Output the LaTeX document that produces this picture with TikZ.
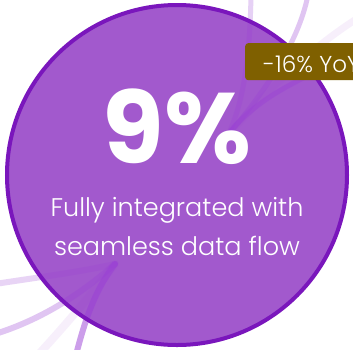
\documentclass[tikz,border=0pt]{standalone}
\usepackage{fontspec}
\setmainfont{Poppins}
\newfontfamily\popbold{Poppins Bold}
\newfontfamily\poplight{Poppins Light}
\definecolor{circfill}{HTML}{A259CD}
\definecolor{circline}{HTML}{7A16BC}
\definecolor{badgefill}{HTML}{7F6000}
\definecolor{flowcol}{HTML}{9A3FD6}
\tikzset{
  flow/.style={draw=flowcol, line cap=round, fill=none},
  badgebox/.style={fill=badgefill, rounded corners=3pt},
}
\begin{document}
\begin{tikzpicture}[x=1pt,y=-1pt]
\useasboundingbox (0,0) rectangle (353,349);
\clip (0,0) rectangle (353,349);
\fill[white] (0,0) rectangle (353,349);
\coordinate (ctr) at (177,175);
\fill[circfill] (ctr) circle (171);
% flows bottom-left
\coordinate (hubA) at (115,264);
\coordinate (hubB) at (228,135);
\draw[flow, line width=6pt, opacity=0.22] (-5,284) .. controls (40,277) and (80,272) .. (hubA);
\draw[flow, line width=6pt, opacity=0.3] (-5,334) .. controls (40,320) and (80,295) .. (hubA);
\draw[flow, line width=8pt, opacity=0.08] (38,355) .. controls (70,320) and (95,290) .. (hubA);
\draw[flow, line width=6pt, opacity=0.5] (76,355) .. controls (85,320) and (95,290) .. (hubA);
% flows top-right
\draw[flow, line width=5pt, opacity=0.24] (251,-5) .. controls (250,50) and (245,100) .. (hubB);
\draw[flow, line width=5pt, opacity=0.3] (308,-5) .. controls (298,45) and (262,95) .. (hubB);
\draw[flow, line width=7pt, opacity=0.08] (358,18) .. controls (300,55) and (260,100) .. (hubB);
\draw[flow, line width=5pt, opacity=0.4] (358,55) .. controls (290,80) and (250,105) .. (hubB);
% circle border
\draw[circline, line width=4pt] (ctr) circle (170);
% badge
\node[badgebox, minimum width=130pt, minimum height=37pt, anchor=north west, inner sep=0pt] (badge) at (245,43) {};
\node[anchor=base west, text=white, font=\poplight\fontsize{23}{23}\selectfont, inner sep=0pt] (badgetext) at (263,72) {-16\% YoY};
% big number
\node[anchor=base, text=white, font=\popbold\fontsize{100}{100}\selectfont, inner sep=0pt] (num) at (177,163) {9\%};
\node[anchor=base, text=white, font=\poplight\fontsize{25.5}{25.5}\selectfont, inner sep=0pt] (l1) at (177,216) {Fully integrated with};
\node[anchor=base, text=white, font=\poplight\fontsize{25.5}{25.5}\selectfont, inner sep=0pt] (l2) at (177,255) {seamless data flow};
\end{tikzpicture}
\end{document}
